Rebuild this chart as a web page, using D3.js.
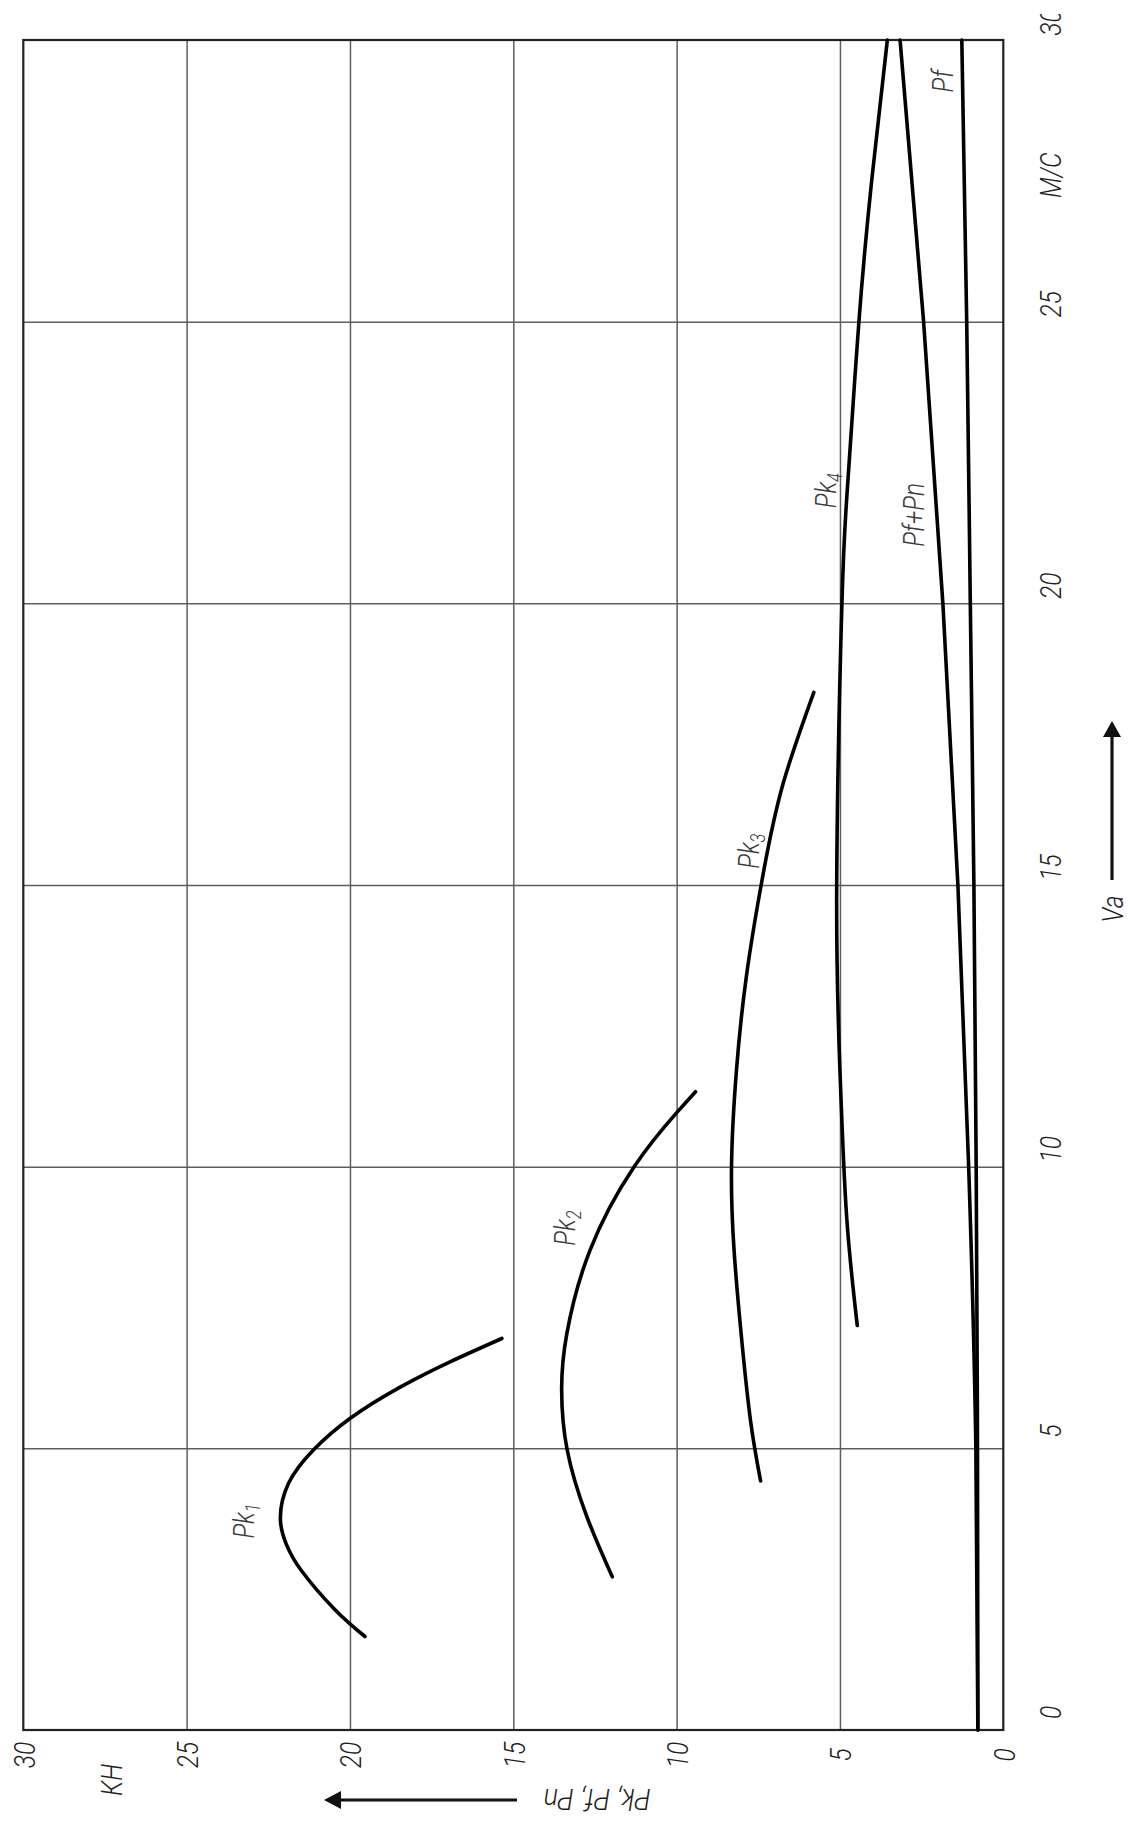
<!DOCTYPE html>
<html>
<head>
<meta charset="utf-8">
<script src="https://cdn.jsdelivr.net/npm/d3@7"></script>
<style>
  html, body { margin: 0; padding: 0; background: #fff; }
  svg { display: block; }
  .lbl { font-family: Roboto, "DejaVu Sans", sans-serif; font-style: italic; font-weight: 300; }
</style>
</head>
<body>
<svg id="chart" width="1143" height="1828"></svg>
<script>
// Axis ticks: vehicle speed Va (m/s) and force (kN)
const speedTicks = [0, 5, 10, 15, 20, 25, 30];
const speedTickLabels = ["0", "5", "10", "15", "20", "25", "30"];
const forceTicks = [0, 5, 10, 15, 20, 25, 30];
const forceTickLabels = ["0", "5", "10", "15", "20", "25", "30"];
const speedUnit = "М/С";
const forceUnit = "КН";

// Traction force per gear, Pk1..Pk4 (kN) versus speed (m/s)
const speedK1 = [1.66, 2.13, 2.84, 3.3, 3.75, 4.38, 4.97, 5.53, 6.09, 6.54, 6.95];
const forceK1 = [19.54, 20.45, 21.5, 21.95, 22.13, 21.88, 21.12, 20.0, 18.45, 16.92, 15.35];

const speedK2 = [2.72, 3.79, 4.97, 6.04, 7.04, 8.52, 10.0, 10.95, 11.33];
const forceK2 = [11.97, 12.75, 13.35, 13.52, 13.36, 12.65, 11.3, 10.01, 9.42];

const speedK3 = [4.42, 5.5, 7.0, 8.5, 10.0, 11.7, 13.4, 15.2, 16.8, 18.42];
const forceK3 = [7.43, 7.74, 8.02, 8.24, 8.32, 8.17, 7.86, 7.35, 6.74, 5.80];

const speedK4 = [7.18, 9.15, 11.7, 15.0, 20.0, 22.15, 25.0, 27.5, 30.0];
const forceK4 = [4.47, 4.80, 5.0, 5.10, 4.94, 4.76, 4.42, 4.03, 3.55];

// Rolling resistance Pf and total resistance Pf+Pn (kN)
const speedRes = [0, 5, 10, 15, 20, 25, 30];
const forceF = [0.78, 0.79, 0.83, 0.90, 1.01, 1.12, 1.27];
const forceFN = [0.78, 0.84, 1.06, 1.39, 1.85, 2.44, 3.16];

// Curve names with subscripts, anchored at [force, speed]
const curveNames = [
  { main: "Pk", sub: "1", at: [23.27, 3.71] },
  { main: "Pk", sub: "2", at: [13.45, 8.91] },
  { main: "Pk", sub: "3", at: [7.81, 15.6] },
  { main: "Pk", sub: "4", at: [5.45, 22.0] },
  { main: "Pf+Pn", sub: "", at: [2.77, 21.57] },
  { main: "Pf", sub: "", at: [1.88, 29.27] }
];

const series = [
  [speedK1, forceK1], [speedK2, forceK2], [speedK3, forceK3], [speedK4, forceK4],
  [speedRes, forceF], [speedRes, forceFN]
];

(function draw() {
  // Layout: force grows leftwards, speed grows upwards
  const W = 1143, H = 1828;
  const plotLeft = 23.3, plotRight = 1003.3, plotTop = 40, plotBottom = 1730;

  const svg = d3.select("#chart");

  const x = d3.scaleLinear().domain([0, 30]).range([plotRight, plotLeft]);
  const y = d3.scaleLinear().domain([0, 30]).range([plotBottom, plotTop]);

  // Grid
  const gridColor = "#5e5e5e";
  svg.append("g")
    .attr("transform", `translate(0,${plotBottom})`)
    .call(d3.axisBottom(x).tickValues(forceTicks.slice(1, -1)).tickSize(-(plotBottom - plotTop)).tickFormat(""))
    .call(g => g.select(".domain").remove())
    .call(g => g.selectAll("line").attr("stroke", gridColor).attr("stroke-width", 1.5));

  svg.append("g")
    .attr("transform", `translate(${plotRight},0)`)
    .call(d3.axisLeft(y).tickValues(speedTicks.slice(1, -1)).tickSize(plotRight - plotLeft).tickFormat(""))
    .call(g => g.select(".domain").remove())
    .call(g => g.selectAll("line").attr("stroke", gridColor).attr("stroke-width", 1.5));

  // Frame
  svg.append("rect")
    .attr("x", plotLeft).attr("y", plotTop)
    .attr("width", plotRight - plotLeft).attr("height", plotBottom - plotTop)
    .attr("fill", "none").attr("stroke", "#222").attr("stroke-width", 2.2);

  // Curves
  const line = d3.line()
    .x(d => x(d[1]))
    .y(d => y(d[0]))
    .curve(d3.curveNatural);

  svg.append("g")
    .selectAll("path")
    .data(series)
    .join("path")
    .attr("d", s => line(s[0].map((v, i) => [v, s[1][i]])))
    .attr("fill", "none")
    .attr("stroke", "#000")
    .attr("stroke-width", 3.6)
    .attr("stroke-linecap", "round")
    .attr("stroke-linejoin", "round");

  // Tick labels
  const fs = 30, squeeze = 0.82;
  const textColor = "#1e1e1e";

  svg.append("g")
    .attr("transform", `translate(0,${plotBottom})`)
    .call(d3.axisBottom(x).tickValues(forceTicks).tickSize(0).tickFormat((d, i) => forceTickLabels[i]))
    .call(g => g.select(".domain").remove())
    .call(g => g.selectAll("text")
      .attr("class", "lbl")
      .attr("font-size", fs)
      .attr("fill", textColor)
      .attr("text-anchor", "middle")
      .attr("x", 0).attr("y", 0).attr("dy", "0.36em")
      .attr("transform", `translate(0,25) rotate(-90) scale(${squeeze},1)`));

  svg.append("clipPath").attr("id", "speedClip")
    .append("rect").attr("x", 0).attr("y", 14).attr("width", W).attr("height", H);

  svg.append("g")
    .attr("clip-path", "url(#speedClip)")
    .append("g")
    .attr("transform", `translate(${plotRight},0)`)
    .call(d3.axisRight(y).tickValues(speedTicks).tickSize(0).tickFormat((d, i) => speedTickLabels[i]))
    .call(g => g.select(".domain").remove())
    .call(g => g.selectAll("text")
      .attr("class", "lbl")
      .attr("font-size", fs)
      .attr("fill", textColor)
      .attr("text-anchor", "middle")
      .attr("x", 0).attr("y", 0).attr("dy", "0.36em")
      .attr("transform", `translate(47,-18) rotate(-90) scale(${squeeze},1)`));

  // Unit labels
  function rotatedText(px, py, str, angle, sx, color) {
    return svg.append("text")
      .attr("class", "lbl")
      .attr("font-size", fs)
      .attr("fill", color || textColor)
      .attr("text-anchor", "middle")
      .attr("dy", "0.36em")
      .attr("transform", `translate(${px},${py}) rotate(${angle}) scale(${sx},1)`)
      .text(str);
  }
  rotatedText(x(27.3), plotBottom + 50, forceUnit, -90, squeeze);
  rotatedText(plotRight + 47, y(27.6), speedUnit, -90, squeeze);

  // Axis titles with direction arrows
  rotatedText(1112, 909, "Va", -90, squeeze);
  rotatedText(597, 1800, "Pk, Pf, Pn", 180, 0.9);

  svg.append("line")
    .attr("x1", 1112).attr("y1", 880).attr("x2", 1112).attr("y2", 734)
    .attr("stroke", "#111").attr("stroke-width", 3.2);
  svg.append("path")
    .attr("d", "M1112,721 L1121,737 L1103,737 Z").attr("fill", "#111");

  svg.append("line")
    .attr("x1", 517).attr("y1", 1800).attr("x2", 338).attr("y2", 1800)
    .attr("stroke", "#111").attr("stroke-width", 3.2);
  svg.append("path")
    .attr("d", "M324,1800 L341,1791 L341,1809 Z").attr("fill", "#111");

  // Curve names
  const names = svg.append("g");
  curveNames.forEach(c => {
    const t = names.append("text")
      .attr("class", "lbl")
      .attr("font-size", fs)
      .attr("fill", "#3a3a3a")
      .attr("text-anchor", "middle")
      .attr("dy", "0.36em")
      .attr("transform", `translate(${x(c.at[0])},${y(c.at[1])}) rotate(-90) scale(${squeeze},1)`);
    t.append("tspan").text(c.main);
    if (c.sub) {
      t.append("tspan").attr("font-size", 20).attr("dy", "0.3em").text(c.sub);
    }
  });
})();
</script>
</body>
</html>
